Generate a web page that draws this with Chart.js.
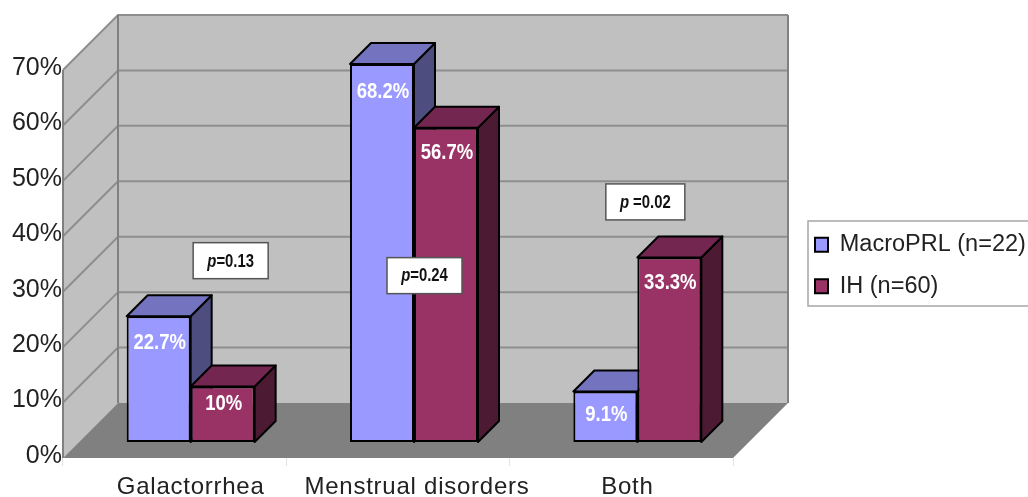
<!DOCTYPE html>
<html>
<head>
<meta charset="utf-8">
<title>Chart</title>
<style>
  html, body { margin: 0; padding: 0; background: #fff; }
  #wrap { width: 1028px; height: 497px; overflow: hidden; }
</style>
<script src="https://cdn.jsdelivr.net/npm/chart.js@4"></script>
</head>
<body>
<div id="wrap"><canvas id="chart" width="1028" height="497"></canvas></div>
<script>
// data
const categories = ['Galactorrhea', 'Menstrual disorders', 'Both'];
const macroPRL = [22.7, 68.2, 9.1];
const ih = [10, 56.7, 33.3];
const seriesNames = ['MacroPRL (n=22)', 'IH (n=60)'];
const tickValues = [0, 10, 20, 30, 40, 50, 60, 70];
const pLabels = ['=0.13', '=0.24', ' =0.02'];

// style and placement
const FONT = '"Liberation Sans", Arial, sans-serif';
const faceColors = [
  { top: '#7373BF', side: '#4D4D80' },
  { top: '#732650', side: '#4D1A33' }
];
const WALL_DEPTH = 55;    // depth of the box
const BAR_INSET = 16;     // bars stand this far back from the front of the floor
const BAR_DEPTH = 21;
const labelShift = [16, 19, 6];
const valueDrop = [[27, 28, 24], [18, 25, 26]];
// p boxes: x shift from category centre, y as a value on the axis, box width
const pBoxes = [
  { dx: 56, value: 35.6, w: 75 },
  { dx: 26.5, value: 32.9, w: 75 },
  { dx: 24, value: 46.2, w: 79 }
];

const poly = (ctx, pts, fill, stroke, lw) => {
  ctx.beginPath();
  pts.forEach((p, i) => i ? ctx.lineTo(p[0], p[1]) : ctx.moveTo(p[0], p[1]));
  ctx.closePath();
  if (fill) { ctx.fillStyle = fill; ctx.fill(); }
  if (stroke) { ctx.strokeStyle = stroke; ctx.lineWidth = lw; ctx.lineJoin = 'round'; ctx.stroke(); }
};

// no narrow font installed, so squeeze the text with maxWidth
const narrowText = (ctx, text, x, y, squeeze) => {
  ctx.fillText(text, x, y, ctx.measureText(text).width * squeeze);
};

const box3d = {
  id: 'box3d',
  // walls, floor and grid lines
  beforeDraw(chart) {
    const ctx = chart.ctx, x = chart.scales.x, y = chart.scales.y;
    const d = WALL_DEPTH;
    const x0 = x.left, x1 = x.right, y0 = y.getPixelForValue(0), yT = y.getPixelForValue(70);
    ctx.save();
    poly(ctx, [[x0 + d, yT - d], [x1 + d, yT - d], [x1 + d, y0 - d], [x0 + d, y0 - d]], '#C0C0C0');
    poly(ctx, [[x0, yT], [x0 + d, yT - d], [x0 + d, y0 - d], [x0, y0]], '#C0C0C0');
    poly(ctx, [[x0, y0], [x0 + d, y0 - d], [x1 + d, y0 - d], [x1, y0]], '#808080');
    ctx.strokeStyle = '#8E8E8E';
    ctx.lineWidth = 2;
    tickValues.slice(1).forEach(v => {
      const py = y.getPixelForValue(v);
      ctx.beginPath();
      ctx.moveTo(x0, py);
      ctx.lineTo(x0 + d, py - d);
      ctx.lineTo(x1 + d, py - d);
      ctx.stroke();
    });
    ctx.beginPath();
    ctx.moveTo(x0, y0);
    ctx.lineTo(x0, yT);
    ctx.moveTo(x0 + d, y0 - d);
    ctx.lineTo(x0 + d, yT - d);
    ctx.moveTo(x1 + d, y0 - d);
    ctx.lineTo(x1 + d, yT - d);
    ctx.strokeStyle = '#808080';
    ctx.stroke();
    // legend frame
    ctx.strokeStyle = '#A6A6A6';
    ctx.lineWidth = 1.5;
    ctx.strokeRect(808, 221, 230, 85);
    ctx.restore();
  },
  // top and side of each bar, the front comes from the bar element itself
  beforeDatasetsDraw(chart) {
    const ctx = chart.ctx, d = BAR_DEPTH;
    ctx.save();
    ctx.translate(BAR_INSET, -BAR_INSET);
    chart.data.datasets.forEach((ds, i) => {
      chart.getDatasetMeta(i).data.forEach(bar => {
        const l = bar.x - bar.width / 2, r = bar.x + bar.width / 2, t = bar.y, b = bar.base;
        poly(ctx, [[r, t], [r + d, t - d], [r + d, b - d], [r, b]], faceColors[i].side, '#000', 2);
        poly(ctx, [[l, t], [l + d, t - d], [r + d, t - d], [r, t]], faceColors[i].top, '#000', 2);
      });
    });
  },
  afterDatasetsDraw(chart) {
    const ctx = chart.ctx, x = chart.scales.x, y = chart.scales.y;
    ctx.restore();
    ctx.save();
    // values on the bars
    ctx.fillStyle = '#fff';
    ctx.font = 'bold 21.5px ' + FONT;
    ctx.textAlign = 'center';
    ctx.textBaseline = 'middle';
    chart.data.datasets.forEach((ds, i) => {
      chart.getDatasetMeta(i).data.forEach((bar, j) => {
        narrowText(ctx, ds.data[j] + '%', bar.x + BAR_INSET + 1, bar.y - BAR_INSET + valueDrop[i][j], 0.86);
      });
    });
    // p value boxes
    pBoxes.forEach((b, i) => {
      const cx = x.getPixelForValue(i) + b.dx, cy = y.getPixelForValue(b.value);
      const squeeze = 0.85;
      ctx.fillStyle = '#fff';
      ctx.strokeStyle = '#555';
      ctx.lineWidth = 1.5;
      ctx.fillRect(cx - b.w / 2, cy - 18, b.w, 36);
      ctx.strokeRect(cx - b.w / 2, cy - 18, b.w, 36);
      ctx.fillStyle = '#111';
      ctx.textAlign = 'left';
      ctx.font = 'italic bold 17.5px ' + FONT;
      const pw = ctx.measureText('p').width * squeeze;
      ctx.font = 'bold 17.5px ' + FONT;
      const rest = pLabels[i];
      const tw = pw + ctx.measureText(rest).width * squeeze;
      narrowText(ctx, rest, cx - tw / 2 + pw, cy + 1, squeeze);
      ctx.font = 'italic bold 17.5px ' + FONT;
      narrowText(ctx, 'p', cx - tw / 2, cy + 1, squeeze);
    });
    // category labels
    ctx.fillStyle = '#222';
    ctx.font = '24px ' + FONT;
    ctx.textAlign = 'center';
    ctx.textBaseline = 'alphabetic';
    ctx.letterSpacing = '0.75px';
    categories.forEach((c, i) => {
      ctx.fillText(c, x.getPixelForValue(i) + labelShift[i], 494);
    });
    ctx.restore();
  },
  // the legend sits outside the plot, to the right of the box
  afterLayout(chart) {
    const lg = chart.legend;
    lg.left = 797;
    lg.right = 1028;
    lg.top = 215;
    lg.bottom = 460;
  }
};

new Chart(document.getElementById('chart'), {
  type: 'bar',
  data: {
    labels: categories,
    datasets: [
      { label: seriesNames[0], data: macroPRL, backgroundColor: '#9999FF' },
      { label: seriesNames[1], data: ih, backgroundColor: '#993366' }
    ]
  },
  options: {
    responsive: false,
    animation: false,
    layout: { padding: { top: 70, right: 295, left: 0, bottom: 0 } },
    datasets: {
      bar: {
        categoryPercentage: 0.573,
        barPercentage: 1,
        borderColor: '#000',
        borderWidth: 2,
        borderSkipped: false,
        clip: false
      }
    },
    scales: {
      x: {
        ticks: { display: false },
        grid: { drawOnChartArea: false, color: '#E2E2E2', tickLength: 8 },
        border: { display: false },
        afterFit: s => { s.height = 39; }
      },
      y: {
        min: 0,
        max: 70,
        afterBuildTicks: s => { s.ticks = tickValues.map(value => ({ value })); },
        ticks: {
          callback: v => v + '%',
          color: '#222',
          padding: 1,
          labelOffset: -2,
          font: { family: FONT, size: 25 }
        },
        grid: { display: false, drawTicks: false },
        border: { display: false },
        afterFit: s => { s.width = 63; }
      }
    },
    plugins: {
      tooltip: { enabled: false },
      legend: {
        position: 'chartArea',
        align: 'start',
        labels: {
          boxWidth: 13,
          boxHeight: 14,
          padding: 18,
          color: '#222',
          font: { family: FONT, size: 23.5 }
        }
      }
    }
  },
  plugins: [box3d]
});
</script>
</body>
</html>
